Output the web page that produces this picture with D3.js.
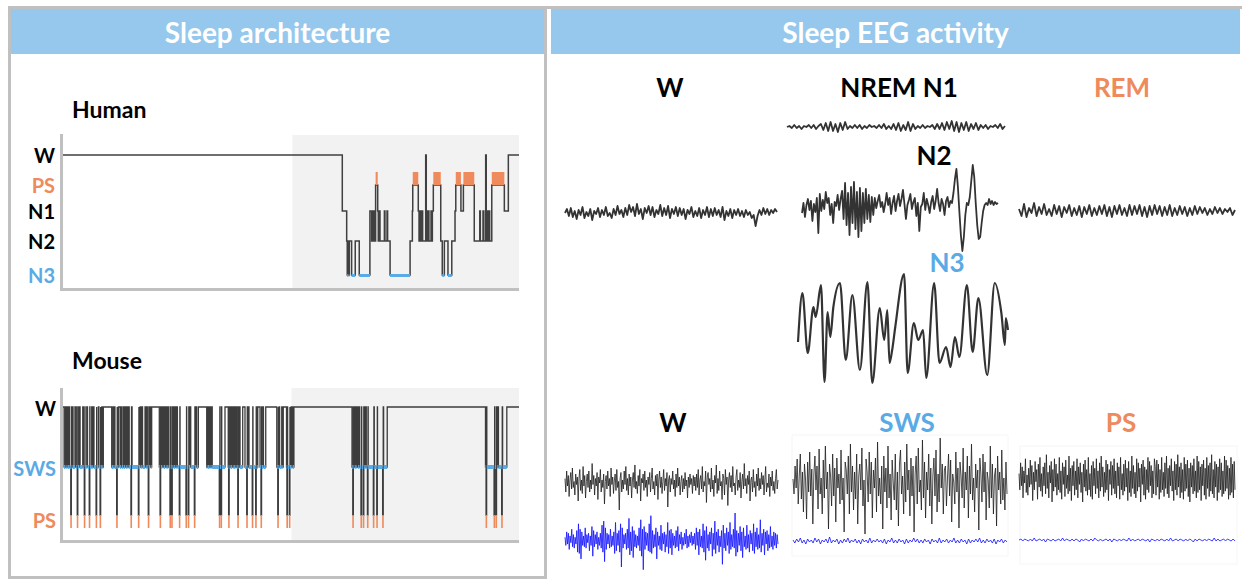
<!DOCTYPE html>
<html>
<head>
<meta charset="utf-8">
<script src="https://cdn.jsdelivr.net/npm/d3@7"></script>
<style>
  html, body { margin: 0; padding: 0; background: #fff; }
  svg { display: block; font-family: Lato, "Open Sans", sans-serif; }
</style>
</head>
<body>
<svg id="chart" width="1242" height="582"></svg>
<script>
// ---------- data ----------
// human hypnogram: stage changes (hours from start of recording)
const humanStageNames = ["W", "PS", "N1", "N2", "N3"];
const humanTimes = [0, 14.72, 14.95, 14.98, 15.02, 15.05, 15.09, 15.21, 15.40, 15.61,
  16.17, 16.26, 16.30, 16.35, 16.39, 16.44, 16.47, 16.58, 16.61, 16.65,
  16.70, 16.93, 16.96, 17.07, 17.10, 17.23, 18.28, 18.40, 18.42, 18.71,
  18.75, 18.80, 18.84, 18.91, 18.94, 19.10, 19.13, 19.17, 19.20, 19.24,
  19.27, 19.38, 19.41, 19.45, 19.50, 19.89, 19.97, 20.08, 20.27, 20.47,
  20.64, 20.68, 20.95, 21.08, 21.65, 21.94, 21.97, 22.11, 22.15, 22.25,
  22.28, 22.32, 22.36, 22.42, 22.46, 22.57, 23.23, 23.44];
const humanStages = ["W", "N1", "N2", "N3", "N2", "N3", "N2", "N3", "N2", "N3",
  "N1", "N2", "N1", "N2", "N1", "N2", "PS", "N1", "N2", "N1",
  "N2", "N1", "N2", "N1", "N2", "N3", "N2", "N1", "PS", "N1",
  "N2", "N1", "N2", "N1", "N2", "W", "N2", "N1", "N2", "N1",
  "N2", "N1", "N2", "N1", "PS", "N2", "N3", "N2", "N3", "N2",
  "N1", "PS", "N1", "PS", "N2", "N1", "N2", "N1", "N2", "W",
  "N2", "N1", "N2", "N1", "N2", "PS", "N1", "W"];
const humanDarkStart = 12.1;

// mouse hypnogram: sleep bouts [SWS start, SWS end, ends in PS]
const mouseStageNames = ["W", "SWS", "PS"];
const mousePsDuration = 0.03;
const mouseDarkStart = 12.05;
const mouseBouts = [
  [0.11, 0.18, 0], [0.23, 0.29, 0], [0.32, 0.37, 0], [0.39, 0.46, 1], [0.50, 0.55, 0], [0.58, 0.68, 0],
  [0.75, 0.80, 1], [0.84, 0.91, 0], [0.95, 1.09, 0], [1.12, 1.17, 1], [1.21, 1.30, 0], [1.34, 1.43, 1], [1.47, 1.56, 0], [1.59, 1.64, 0],
  [1.68, 1.79, 1], [1.82, 1.91, 0], [1.94, 2.00, 1], [2.03, 2.09, 0], [2.12, 2.17, 0],
  [2.61, 2.68, 0], [2.70, 2.76, 0], [2.78, 2.87, 1], [2.90, 2.96, 0],
  [3.05, 3.10, 0], [3.14, 3.22, 0], [3.26, 3.31, 0], [3.35, 3.40, 0], [3.44, 3.49, 0], [3.53, 3.62, 1], [3.68, 4.01, 1],
  [4.04, 4.10, 0], [4.13, 4.19, 0], [4.23, 4.36, 0], [4.40, 4.45, 0], [4.48, 4.53, 1], [4.57, 4.62, 0], [4.66, 4.71, 0],
  [5.11, 5.15, 1], [5.20, 5.25, 0], [5.29, 5.32, 0], [5.36, 5.41, 0], [5.45, 5.49, 0], [5.53, 5.58, 0], [5.61, 5.67, 1],
  [5.71, 5.76, 1], [5.80, 5.85, 0], [5.88, 5.93, 0], [5.97, 6.02, 0], [6.06, 6.16, 1],
  [6.20, 6.51, 1], [6.55, 6.63, 1], [6.67, 6.72, 0], [6.76, 6.95, 1], [6.99, 7.04, 0], [7.07, 7.16, 0],
  [7.60, 7.64, 0], [7.67, 7.72, 0], [7.75, 7.80, 0], [7.83, 7.86, 0], [7.89, 8.26, 1], [8.30, 8.35, 1], [8.39, 8.56, 0],
  [8.73, 8.75, 1], [8.80, 8.85, 0], [8.88, 8.93, 0], [8.97, 9.01, 0], [9.04, 9.09, 0], [9.12, 9.16, 0], [9.19, 9.23, 1],
  [9.27, 9.31, 0], [9.35, 9.49, 0],
  [9.61, 9.70, 1], [9.74, 9.78, 0], [9.82, 9.99, 1], [10.03, 10.17, 1], [10.22, 10.28, 0],
  [10.40, 10.45, 1], [10.49, 10.56, 0], [10.58, 10.70, 0],
  [11.28, 11.33, 1], [11.36, 11.40, 0], [11.43, 11.54, 0], [11.57, 11.62, 0],
  [11.79, 11.81, 1], [11.85, 11.94, 1], [11.97, 12.03, 0], [12.05, 12.09, 0], [12.12, 12.18, 0],
  [15.23, 15.27, 1], [15.31, 15.35, 0], [15.39, 15.43, 0], [15.46, 15.49, 0], [15.55, 15.60, 0], [15.63, 15.70, 1],
  [15.74, 15.82, 1], [15.86, 15.90, 0], [15.92, 15.96, 0], [15.98, 16.04, 1], [16.08, 16.35, 1], [16.40, 16.53, 1],
  [16.57, 16.84, 1], [16.89, 17.08, 0],
  [22.24, 22.27, 1], [22.31, 22.69, 1], [22.73, 22.79, 1], [22.84, 22.88, 0], [22.92, 23.09, 1], [23.14, 23.36, 0]
];

// human EEG samples (uV, up = positive)
const humanW = [0, 4, -3, 5, -4, 2, -6, 3, -2, 6, -5, 1, -3, 4, -7, 2, -1, 5, -4, 3,
  -2, 6, -3, 0, -5, 4, -2, 7, -1, 3, -4, 5, -2, 8, 1, 6, -3, 9, -1, 4,
  -6, 5, 0, 7, -2, 6, -4, 3, -1, 8, -3, 5, -2, 7, -5, 4, -1, 6, -3, 5,
  -2, 4, -6, 3, -1, 6, -4, 2, -3, 5, -5, 3, -2, 6, -4, 4, -3, 5, -2, 3,
  -4, 6, -7, 2, -3, 4, -5, 3, -2, 4, -3, 2, -4, 3, -2, 1, -5, -2, -13, -3,
  3, -2, 5, -1, 4, -2, 3, 0, 4, 1];
const humanN1 = [0, 1, -1, 2, -1, 1, -2, 1, 0, 2, -1, 2, -2, 1, 3, -3, 4, -4, 5, -4,
  3, -5, 4, -3, 5, -2, 1, -1, 2, -1, 2, -2, 1, -1, 2, 0, 1, -1, 2, -1,
  3, -2, 1, -2, 3, -3, 4, -4, 2, -3, 5, -4, 3, -2, 1, -1, 2, -1, 1, 0,
  2, -2, 3, -2, 4, -3, 5, -2, 6, -4, 5, -5, 4, -3, 5, -4, 3, -2, 4, -3,
  2, -1, 2, -2, 1, 0, 2, -1, 3, -2, 1];
const humanN2 = [-6, 4, -10, 2, 8, -3, 6, -14, 3, -5, 9, -26, 13, -4, 7, -2, 15, 4, 9, -8, 3, -16, 5, 1, 12, -3, 8,
  16, -12, 24, -18, 14, -28, 20, -16, 25, -22, 15, -30, 19, -24, 14, -16, 18, -12, 12, -15, 10, -8,
  9, -1, 6, 12, 0, 5, -5, 3, 14, 2, 9, -7, 4, 11, -4, 6, 13, 1, 8, 17, 3, -12, 2, 7, 13, -2,
  5, 9, -9, 4, -24, 0, 3, 14, -3, 8, 2, -6, 5, 11, -2, 6, 18, 4, -4, 8, 3, -8, 6, 10, 0, 6,
  4, 14, 28, 38, 20, -5, -28, -44, -30, -8, 4, 2, 10, 26, 42, 30, 4, -18, -32, -30, -16, -4, 2, 4,
  2, 8, 3, 6, 2, 5, 3, 4];
const humanREM = [2, -5, 7, -6, 3, -2, 8, -5, 4, -3, 7, -4, 2, -5, 6, -3, 5, -6, 4, -2,
  6, -5, 3, -4, 5, -6, 4, -3, 6, -5, 3, -4, 5, -3, 6, -5, 4, -6, 5, -3,
  6, -4, 3, -5, 6, -4, 5, -3, 6, -5, 4, -6, 5, -4, 6, -3, 5, -5, 4, -4,
  6, -5, 3, -4, 5, -3, 4, -5, 3, -4, 5, -3, 4, -2, 3, -4, 2, -3, 4, -2,
  3, -3, 2, -1, 3, -4, 1];
const humanN3Time = [0, 10, 22, 35, 40, 52, 60, 67, 73, 80, 95, 108, 123, 140, 157, 168, 185, 195, 202, 207,
  213, 220, 240, 248, 262, 272, 283, 290, 308, 320, 335, 345, 355, 365, 382, 395, 408, 428, 445, 460,
  468, 470, 475];
const humanN3Value = [-12, 37, -23, 23, 13, 45, -52, 18, -7, 23, 47, -30, 35, -40, 48, -53, 22, -10, 20, -33,
  -20, 3, 56, -43, 7, -10, 0, -48, 47, -33, -17, -37, -7, -27, 45, -22, 32, -45, 47, 17,
  -15, 12, 0];

// mouse EEG / EMG samples (uV, up = positive)
const mouseWEeg = [3, -6, 8, -2, 5, -9, 2, 7, -4, 10, -3, 1, -8, 6, -1, 4, -12, 3, 9, -5, 2, -7, 11, -2, 5, -10, 1, 6, -3, 8,
  -6, 2, -4, 13, -1, 5, -8, 3, -2, 7, -11, 4, 0, 9, -6, 2, -3, 6, -14, 1, 5, -4, 8, -2, 3, -9, 10, -1, 4, -7,
  2, 6, -5, 9, -3, 1, -18, 3, 7, -6, 2, -4, 8, -1, 11, -5, 3, -8, 6, -2, 4, -10, 2, 7, -3, 12, -4, 1, -7, 5,
  -2, 9, -12, 3, 0, 6, -5, 8, -3, 2, -9, 4, -1, 7, -6, 3, 10, -4, 1, -8, 5, -2, 6, -11, 2, 8, -3, 4, -7, 1,
  9, -5, 3, -2, 7, -16, 2, 5, -6, 3, -1, 8, -4, 2, -9, 6, -3, 10, -2, 4, -8, 1, 5, -6, 3, -4, 7, -2, 2, -10,
  4, -3, 6, -1, 3, -7, 5, -2, 4, -5, 6, -3, 9, -8, 2, 5, -4, 11, -6, 1, -2, 8, -13, 4, 7, -1, 3, -6, 10, -4,
  2, -9, 5, 0, 12, -7, 3, -5, 8, -2, 1, -11, 6, 3, -8, 9, -1, 4, -15, 2, 7, -3, 5, -6, 11, -2, 0, -8, 4, 9,
  -5, 2, -3, 7, -10, 1, 6, -4, 13, -2, 3, -7, 5, -1, 8, -12, 2, 4, -6, 9, -3, 1, -9, 6, -2, 10, -5, 3, -4, 7,
  -1, 5, -8, 2, 11, -6, 0, -3, 6, -9, 4, -2, 8, -5, 1, -7, 3, 9, -4, 2];
const mouseWEmg = [2, -4, 6, -3, 5, -7, 3, -2, 8, -5, 4, -6, 2, -3, 7, -9, 12, -10, 8, -14, 6, -4, 3, -5, 9, -6, 4, -2, 5, -8,
  3, -4, 10, -12, 7, -5, 4, -3, 6, -7, 2, -4, 5, -6, 11, -9, 14, -16, 9, -7, 5, -3, 4, -6, 8, -5, 3, -4, 6, -10,
  13, -8, 5, -4, 7, -9, 12, -20, 9, -6, 4, -3, 5, -7, 8, -6, 16, -11, 6, -8, 10, -13, 7, -5, 4, -6, 3, -4, 9, -8,
  15, -12, 8, -22, 10, -7, 6, -4, 5, -8, 12, -9, 18, -10, 7, -6, 4, -5, 9, -14, 6, -4, 3, -7, 11, -8, 5, -3, 6, -9,
  4, -5, 13, -10, 7, -6, 8, -11, 5, -4, 3, -6, 7, -5, 10, -8, 4, -3, 6, -7, 2, -4, 5, -3, 8, -6, 3, -5, 4, -2,
  6, -4, 3, -3, 5, -7, 9, -4, 6, -11, 8, -5, 3, -6, 12, -9, 7, -15, 10, -6, 4, -8, 6, -3, 9, -12, 5, -7, 14, -10,
  6, -4, 8, -9, 3, -5, 7, -18, 11, -6, 5, -8, 9, -4, 6, -10, 13, -7, 4, -5, 8, -6, 20, -12, 7, -9, 5, -4, 10, -8,
  6, -13, 9, -5, 3, -7, 11, -6, 4, -9, 7, -3, 5, -8, 12, -10, 6, -5, 9, -7, 4, -6, 15, -9, 5, -4, 8, -11, 6, -3,
  7, -8, 4, -6, 10, -5, 3, -7, 6, -4, 5, -6, 4, -3];
const mouseSwsEeg = [5, -10, 18, -4, 25, -20, 8, 30, -15, 12, -28, 20, 5, -35, 22, -8, 32, -12, 15, -40, 10, 28, -6, 18, -25,
  35, -10, 6, -30, 24, -14, 38, -5, 12, -45, 20, 8, -22, 30, -12, 16, -38, 26, -4, 10, -20, 34, -16, 6, -48,
  22, 14, -10, 28, -30, 40, -8, 18, -26, 12, -15, 30, -40, 8, 20, -6, 36, -22, 4, -50, 25, 12, -18, 32, -10,
  22, -34, 14, -4, 26, -28, 42, -12, 6, -20, 18, -45, 28, -8, 16, -24, 38, -14, 10, -36, 24, 2, -16, 30, -26,
  12, -42, 20, 34, -10, 8, -30, 22, -18, 40, -6, 14, -32, 26, -12, 18, -48, 10, 28, -20, 36, -8, 4, -26, 44,
  -14, 22, -34, 12, -6, 30, -22, 16, -40, 8, 26, -12, 34, -28, 10, -18, 46, -4, 20, -30, 14,
  18, -22, 6, 30, -12, 24, -38, 10, 2, -20, 32, -8, 16, -44, 22, 8, -14, 36, -24, 12, -6, 28, -34, 18, -10,
  40, -16, 6, -28, 20, -4, 14, -46, 26, 10, -18, 30, -8, 22, -36, 12, 4, -24, 38, -14, 20, -30, 8, 16, -42,
  28, -6, 12, -20, 34, -16, 6, -26, 22, -10];
const mouseSwsEmg = [1, -2, 2, -1, 3, -2, 1, -3, 2, -1, 1, -2, 3, -1, 2, -3, 1, -1, 2, -2, 4, -2, 1, -1, 2, -3, 1, -2, 2, -1,
  3, -2, 1, -1, 2, -2, 1, -3, 2, -1, 1, -2, 3, -2, 1, -1, 2, -1, 1, -2, 2, -3, 1, -1, 3, -2, 1, -2, 2, -1,
  1, -3, 2, -2, 1, -1, 3, -1, 2, -2, 1, -2, 2, -1, 1, -3, 2, -1, 1, -2, 3, -2, 1, -1, 2, -2, 1, -1, 3, -2,
  1, -2, 2, -1, 1, -3, 2, -2, 1, -1, 2, -1, 3, -2, 1, -2, 2, -1, 1, -2, 2, -3, 1, -1, 2, -2, 1, -1];
const mousePsEeg = [4, -8, 12, -5, 9, -14, 6, -3, 15, -10, 3, -12, 8, -6, 14, -4, 10, -16, 5, -8, 13, -2, 7, -15, 11, -6, 16, -9, 4, -13,
  9, -5, 12, -11, 18, -7, 5, -14, 10, -3, 13, -17, 7, -9, 15, -6, 11, -12, 4, -8, 16, -10, 6, -15, 12, -4, 9, -13, 14, -7,
  3, -11, 17, -9, 8, -16, 10, -5, 13, -12, 6, -8, 15, -14, 9, -4, 12, -10, 5, -17, 11, -6, 14, -9, 7, -12, 16, -8, 4, -13,
  10, -15, 13, -5, 8, -11, 15, -7, 6, -14, 12, -9, 17, -6, 9, -13, 5, -10, 14, -8, 11, -16, 7, -4, 13, -12, 10, -7, 15, -11,
  6, -14, 12, -5, 9, -15, 16, -8, 4, -12, 11, -9, 14, -6, 8, -16, 13, -10, 6, -13, 17, -7, 10, -11, 5, -14, 15, -9, 12, -6,
  8, -17, 11, -4, 14, -12, 9, -15, 7, -8, 16, -10, 13, -5, 10, -14, 6, -11, 15,
  9, -12, 14, -6, 11, -15, 7, -10, 16, -8, 5, -13, 12, -7, 17, -11, 8, -14, 10, -5, 15, -9, 6, -16, 13, -8, 11, -12, 18, -6,
  9, -14, 12, -10, 7, -15, 16, -9, 11, -7, 14, -13, 8, -17, 12, -6, 10, -11, 15, -9, 6, -14, 17, -10, 13, -8, 9, -16, 11, -5,
  14, -12, 8, -15, 16, -7, 10, -13, 12, -9, 18, -11, 7, -14, 13, -6, 11, -16, 9, -10, 15, -8, 12, -13, 6, -11, 17, -9, 14, -7,
  10, -15, 8, -12, 16, -10, 11, -14, 13, -8];
const mousePsEmg = [0, 1, -1, 1, 0, -1, 1, -1, 2, -1, 0, 1, -1, 1, -2, 1, 0, -1, 1, -1, 0, 1, -1, 2, -1, 1, 0, -1, 1, -1,
  1, 0, -2, 1, -1, 1, 0, -1, 1, -1, 2, 0, -1, 1, -1, 0, 1, -1, 1, -2, 1, 0, -1, 1, -1, 1, 0, -1, 2, -1,
  1, -1, 0, 1, -1, 1, 0, -1, 1, -2, 1, 0, -1, 1, -1, 1, 0, -1, 1, -1, 2, -1, 0, 1, -1, 1, 0, -1, 1, -1,
  1, 0, -2, 1, -1, 1, 0, -1, 1, -1, 1, 0, -1, 2, -1, 1, -1, 0, 1, -1, 1, 0, -1, 1, -1];

// ---------- drawing ----------
const orange = "#ee8a5c";
const blue = "#5aaae6";
const headerBlue = "#95c8ec";
const frameGray = "#c0c0c0";

const svg = d3.select("#chart");

// panel frames and headers
svg.append("rect").attr("x", 9.5).attr("y", 7.5).attr("width", 536).attr("height", 570)
  .attr("fill", "none").attr("stroke", frameGray).attr("stroke-width", 3);
svg.append("line").attr("x1", 545).attr("x2", 1242).attr("y1", 7.5).attr("y2", 7.5)
  .attr("stroke", frameGray).attr("stroke-width", 3);

const headers = [
  { text: "Sleep architecture", x: 11, w: 533 },
  { text: "Sleep EEG activity", x: 551, w: 689 }
];
headers.forEach(h => {
  svg.append("rect").attr("x", h.x).attr("y", 9).attr("width", h.w).attr("height", 45).attr("fill", headerBlue);
  svg.append("text").attr("x", h.x + h.w / 2).attr("y", 33).attr("dy", "0.35em")
    .attr("text-anchor", "middle").attr("fill", "#fff").attr("font-size", 28).attr("font-weight", 700)
    .text(h.text);
});

// human hypnogram
const hx = d3.scaleLinear().domain([0, 24]).range([62, 519]);
const hy = d3.scaleOrdinal().domain(humanStageNames).range([155, 185, 211, 241, 275]);
const hg = svg.append("g");

hg.append("rect").attr("x", hx(humanDarkStart)).attr("y", 135)
  .attr("width", hx(24) - hx(humanDarkStart)).attr("height", 153).attr("fill", "#f2f2f2");

const humanSteps = humanTimes.map((t, i) => [t, humanStages[i]]);
humanSteps.push([24, humanStages[humanStages.length - 1]]);
const humanSegs = humanTimes.map((t, i) => ({
  t0: t, t1: i < humanTimes.length - 1 ? humanTimes[i + 1] : 24, stage: humanStages[i]
}));

hg.append("path").datum(humanSteps)
  .attr("d", d3.line().x(d => hx(d[0])).y(d => hy(d[1])).curve(d3.curveStepAfter))
  .attr("fill", "none").attr("stroke", "#404040").attr("stroke-width", 1.5);

hg.selectAll(".ps").data(humanSegs.filter(s => s.stage === "PS")).enter().append("rect")
  .attr("x", d => hx(d.t0)).attr("y", hy("PS") - 13)
  .attr("width", d => Math.max(1.6, hx(d.t1) - hx(d.t0))).attr("height", 13).attr("fill", orange);

hg.selectAll(".n3").data(humanSegs.filter(s => s.stage === "N3")).enter().append("line")
  .attr("x1", d => hx(d.t0)).attr("x2", d => hx(d.t1))
  .attr("y1", hy("N3") + 0.5).attr("y2", hy("N3") + 0.5)
  .attr("stroke", blue).attr("stroke-width", 3);

hg.append("path").attr("d", "M61.5,134V289.5H519").attr("fill", "none")
  .attr("stroke", frameGray).attr("stroke-width", 3);

const humanLabelColor = { W: "#000", PS: orange, N1: "#000", N2: "#000", N3: blue };
hg.selectAll(".lab").data(humanStageNames).enter().append("text")
  .attr("x", 55).attr("y", d => hy(d) + 1).attr("dy", "0.35em").attr("text-anchor", "end")
  .attr("font-size", 20).attr("font-weight", 700).attr("fill", d => humanLabelColor[d]).text(d => d);

hg.append("text").attr("x", 72).attr("y", 118).attr("font-size", 23).attr("font-weight", 700).text("Human");

// mouse hypnogram
const mx = d3.scaleLinear().domain([0, 24]).range([62, 519]);
const my = d3.scaleOrdinal().domain(mouseStageNames).range([407, 467, 515]);
const mg = svg.append("g");

mg.append("rect").attr("x", mx(mouseDarkStart)).attr("y", 388)
  .attr("width", mx(24) - mx(mouseDarkStart)).attr("height", 153).attr("fill", "#f2f2f2");

const mouseSteps = [[0, "W"]];
mouseBouts.forEach(b => {
  mouseSteps.push([b[0], "SWS"]);
  if (b[2]) {
    mouseSteps.push([b[1], "PS"]);
    mouseSteps.push([b[1] + mousePsDuration, "W"]);
  } else {
    mouseSteps.push([b[1], "W"]);
  }
});
mouseSteps.push([24, "W"]);

mg.append("path").datum(mouseSteps)
  .attr("d", d3.line().x(d => mx(d[0])).y(d => my(d[1])).curve(d3.curveStepAfter))
  .attr("fill", "none").attr("stroke", "#3c3c3c").attr("stroke-width", 1.3);

mg.selectAll(".sws").data(mouseBouts).enter().append("line")
  .attr("x1", d => mx(d[0])).attr("x2", d => mx(d[1]))
  .attr("y1", my("SWS")).attr("y2", my("SWS"))
  .attr("stroke", blue).attr("stroke-width", 4);

mg.selectAll(".mps").data(mouseBouts.filter(b => b[2])).enter().append("rect")
  .attr("x", d => mx(d[1]) - 0.5).attr("y", my("PS"))
  .attr("width", d => Math.max(1.6, mx(d[1] + mousePsDuration) - mx(d[1]) + 0.5)).attr("height", 13)
  .attr("fill", orange);

mg.append("path").attr("d", "M61.5,388V541.5H519").attr("fill", "none")
  .attr("stroke", frameGray).attr("stroke-width", 3);

const mouseLabelColor = { W: "#000", SWS: blue, PS: orange };
mg.selectAll(".lab").data(mouseStageNames).enter().append("text")
  .attr("x", 56).attr("y", d => my(d) + (d === "PS" ? 6 : 2)).attr("dy", "0.35em").attr("text-anchor", "end")
  .attr("font-size", 20).attr("font-weight", 700).attr("fill", d => mouseLabelColor[d]).text(d => d);

mg.append("text").attr("x", 72).attr("y", 369).attr("font-size", 23).attr("font-weight", 700).text("Mouse");

// EEG traces
function drawTrace(values, x0, x1, yc, color, width, opts) {
  opts = opts || {};
  const idx = opts.times || values.map((v, i) => i);
  const gain = opts.gain || 1;
  const x = d3.scaleLinear().domain(d3.extent(idx)).range([x0, x1]);
  const y = d3.scaleLinear().domain([-50, 50]).range([yc + 50 * gain, yc - 50 * gain]);
  svg.append("path").datum(values)
    .attr("d", d3.line().x((d, i) => x(idx[i])).y(d => y(d)).curve(opts.curve || d3.curveLinear))
    .attr("fill", "none").attr("stroke", color).attr("stroke-width", width)
    .attr("stroke-linejoin", "round");
}

// faint frames around the mouse recordings
[[792, 435, 216, 121], [1020, 446, 217, 118]].forEach(r => {
  svg.append("rect").attr("x", r[0]).attr("y", r[1]).attr("width", r[2]).attr("height", r[3])
    .attr("fill", "none").attr("stroke", "#f6f6f6").attr("stroke-width", 1);
});

drawTrace(humanW, 565, 777, 213, "#333", 1.8);
drawTrace(humanN1, 787, 1005, 127, "#333", 1.8);
drawTrace(humanN2, 802, 998, 207, "#333", 1.8);
drawTrace(humanREM, 1019, 1235, 211, "#333", 1.8);
drawTrace(humanN3Value, 798, 1008, 330, "#333", 2.2, { curve: d3.curveMonotoneX, times: humanN3Time });

drawTrace(mouseWEeg, 565, 778, 483, "#1e1e1e", 0.8, { gain: 1.5 });
drawTrace(mouseWEmg, 565, 778, 540, "#1010ff", 0.8, { gain: 1.35 });
drawTrace(mouseSwsEeg, 793, 1007, 484, "#1e1e1e", 0.8);
drawTrace(mouseSwsEmg, 793, 1007, 541, "#1010ff", 0.8);
drawTrace(mousePsEeg, 1019, 1235, 479, "#1e1e1e", 0.8, { gain: 1.35 });
drawTrace(mousePsEmg, 1019, 1235, 540, "#1010ff", 0.8);

// trace titles
const traceLabels = [
  { text: "W", x: 670, y: 88, c: "#000" },
  { text: "NREM N1", x: 899, y: 88, c: "#000" },
  { text: "REM", x: 1122, y: 88, c: orange },
  { text: "N2", x: 934, y: 156, c: "#000" },
  { text: "N3", x: 947, y: 263, c: blue },
  { text: "W", x: 673, y: 423, c: "#000" },
  { text: "SWS", x: 907, y: 423, c: blue },
  { text: "PS", x: 1121, y: 423, c: orange }
];
svg.selectAll(".tl").data(traceLabels).enter().append("text")
  .attr("x", d => d.x).attr("y", d => d.y).attr("dy", "0.35em").attr("text-anchor", "middle")
  .attr("font-size", 26).attr("font-weight", 700).attr("fill", d => d.c).text(d => d.text);
</script>
</body>
</html>
